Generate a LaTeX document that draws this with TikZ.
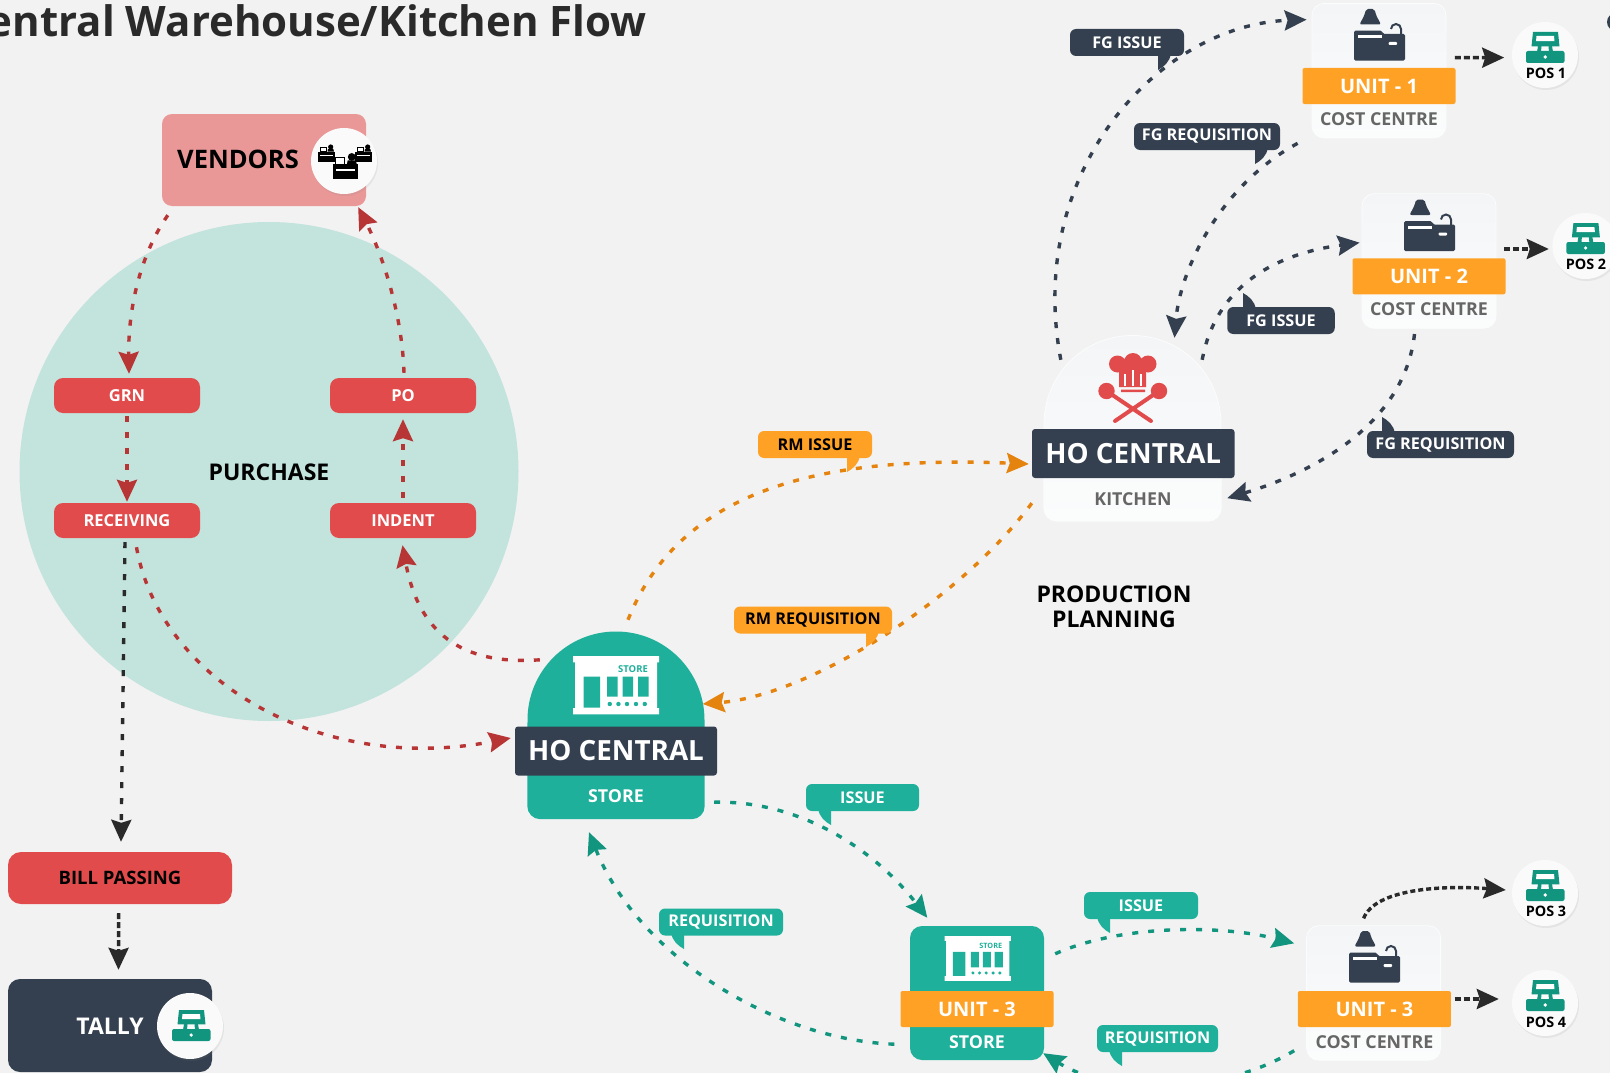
\documentclass[tikz,border=0pt]{standalone}
\usepackage{fontspec}
\setmainfont{Open Sans}
\usetikzlibrary{arrows.meta, shadows}

\definecolor{PageGray}{HTML}{F2F2F2}
\definecolor{PurchaseTeal}{HTML}{C3E3DD}
\definecolor{VendorPink}{HTML}{E99797}
\definecolor{RedFill}{HTML}{E24B4B}
\definecolor{ArrowRed}{HTML}{B73535}
\definecolor{InkDark}{HTML}{34404F}
\definecolor{ArrowDark}{HTML}{2A2A2A}
\definecolor{StoreGreen}{HTML}{1EB09A}
\definecolor{ArrowGreen}{HTML}{12957F}
\definecolor{BandOrange}{HTML}{FFA124}
\definecolor{ArrowOrange}{HTML}{E5830F}
\definecolor{TextGray}{HTML}{666666}
\definecolor{CardTop}{HTML}{F4F5F7}
\definecolor{CardBottom}{HTML}{FBFCFC}

\tikzset{
  flow/.style={line width=3.4pt, dash pattern=on 6pt off 10pt,
    -{Stealth[length=22pt, width=20pt, inset=3pt]}},
  flowred/.style={flow, draw=ArrowRed},
  flowink/.style={flow, draw=InkDark},
  flowgreen/.style={flow, draw=ArrowGreen},
  floworange/.style={flow, draw=ArrowOrange},
  flowshort/.style={flow, draw=ArrowDark, dash pattern=on 6pt off 3pt},
  redbox/.style={fill=RedFill, rounded corners=9pt, inner sep=0pt, minimum width=146pt,
    minimum height=35pt, text=white, font=\bfseries\fontsize{16.5}{20}\selectfont},
  bandink/.style={fill=InkDark, rounded corners=3pt, inner sep=0pt, minimum height=49pt,
    text=white, font=\bfseries\fontsize{27.8}{30}\selectfont},
  bandorange/.style={fill=BandOrange, rounded corners=2pt, inner sep=0pt, minimum width=153pt,
    minimum height=36pt, text=white, font=\bfseries\fontsize{20}{24}\selectfont},
  sublabel/.style={inner sep=0pt, font=\bfseries\fontsize{17.8}{22}\selectfont},
  headline/.style={inner sep=0pt, text=black, font=\bfseries\fontsize{23}{25}\selectfont},
  costcard/.style={top color=CardTop, bottom color=CardBottom, draw=CardBottom, line width=.8pt,
    rounded corners=12pt, inner sep=0pt, minimum width=134pt, minimum height=134.5pt},
  roundel/.style={circle, fill=white!50!CardTop, inner sep=0pt, minimum size=66pt,
    drop shadow={opacity=.12, shadow xshift=1pt, shadow yshift=-2pt}},
  postext/.style={inner sep=0pt, text=black, font=\bfseries\fontsize{14.4}{18}\selectfont},
  bubble/.style={rounded corners=6pt, inner sep=0pt, minimum height=27pt,
    font=\bfseries\fontsize{16.2}{20}\selectfont},
  bubbletail/.pic={\path[pic actions] (0,-1) -- (13,-1) .. controls (12,6) and (6,12) .. (0,15) -- cycle;},
  storeicon/.pic={
    \fill[white] (0,0) rectangle (86,6.3) (2,0) rectangle (84,58) (0,52) rectangle (86,58.3);
    \fill[StoreGreen] (10.7,20.7) rectangle (27,51.7)
      (34,20.7) rectangle (44.6,40.7) (49.6,20.7) rectangle (60,40.7) (65,20.7) rectangle (75.7,40.7);
    \foreach \dotx in {36.8,45.4,54,63,71.8} \fill[StoreGreen] (\dotx,48) circle[radius=2.2];
    \node[transform shape, inner sep=0pt, text=StoreGreen, font=\bfseries\fontsize{9.5}{11}\selectfont]
      (tag) at (60,12.7) {STORE};
  },
  deskicon/.pic={
    \fill[InkDark, rounded corners=2pt] (12,0) -- (20.5,0) -- (22,6) -- (27,15.5) -- (5.5,15.5) -- (10.5,6) -- cycle;
    \fill[InkDark, rounded corners=1.5pt] (0,21.7) -- (28,21.7) -- (29,25) -- (51,25) -- (51,51.7) -- (0,51.7) -- cycle;
    \draw[InkDark, line width=2pt] (47,27) -- (47,20) arc[start angle=0, end angle=180, radius=5pt] -- (37,20);
    \fill[white] (3.6,26) rectangle (28,29);
    \fill[white, rounded corners=1pt] (34.5,33) rectangle (43,36);
  },
  posicon/.pic={
    \fill[ArrowGreen] (-12,-23) -- (13,-23) -- (14.5,-8.6) -- (-13.5,-8.6) -- cycle;
    \fill[white] (-8.5,-19) -- (9,-19) -- (9.5,-13.8) -- (-9,-13.8) -- cycle;
    \fill[ArrowGreen] (-7,-9) -- (-3.5,-9) -- (-4,-3) -- (-8,-3) -- cycle (3.5,-9) -- (7,-9) -- (8,-3) -- (4,-3) -- cycle;
    \fill[ArrowGreen, rounded corners=2pt] (-19,-4) rectangle (19.5,8);
    \fill[white] (0.2,2) circle[radius=1.8];
  },
  vendordesk/.pic={
    \fill[black] (0,0) rectangle (16.7,10);
    \fill[white] (2,3.2) rectangle (14.7,4.4);
    \fill[black] (12.7,-4.7) circle[radius=2.6];
    \fill[black] (9.5,0) -- (10,-2.5) -- (15.4,-2.5) -- (16,0) -- cycle;
    \draw[black, line width=.6pt, fill=white] (2,-4.5) rectangle (8,0);
  },
}

\begin{document}
\begin{tikzpicture}[x=1pt, y=-1pt]

\useasboundingbox (0,0) rectangle (1610,1073);
\fill[PageGray] (0,0) rectangle (1610,1073);
\fill[PurchaseTeal] (269,471.5) circle[radius=249.5];
\fill[InkDark] (1616,22) circle[radius=9];

% Titulo y textos sueltos
\node[anchor=base east, inner sep=0pt, text=ArrowDark, font=\bfseries\fontsize{42}{48}\selectfont]
  (title) at (647,37) {entral Warehouse/Kitchen Flow};
\node[headline] (purchase) at (269,472) {PURCHASE};
\node[headline, align=center] (planning) at (1114,606.5) {PRODUCTION\\PLANNING};

% Compras
\node[fill=VendorPink, rounded corners=10pt, minimum width=204pt, minimum height=92pt, inner sep=0pt] (vendors) at (264,160) {};
\node[inner sep=0pt, text=black, font=\bfseries\fontsize{25.5}{30}\selectfont] (vendorsText) at (238,159) {VENDORS};
\node[roundel] (vendorsIcon) at (344,161) {};
\pic at (318,151.7) {vendordesk};
\pic at (355,151.7) {vendordesk};
\pic[scale=1.5] at (332.7,164) {vendordesk};
\node[redbox] (grn) at (127,395.5) {GRN};
\node[redbox] (po) at (403,395.5) {PO};
\node[redbox] (receiving) at (127,520.5) {RECEIVING};
\node[redbox] (indent) at (403,520.5) {INDENT};

% Pagos
\node[fill=RedFill, rounded corners=13pt, minimum width=224pt, minimum height=52pt, inner sep=0pt,
  text=black, font=\bfseries\fontsize{18.5}{22}\selectfont] (billPassing) at (120,878) {BILL PASSING};
\node[fill=InkDark, rounded corners=12pt, minimum width=204pt, minimum height=93pt, inner sep=0pt] (tally) at (110,1025.5) {};
\node[inner sep=0pt, text=white, font=\bfseries\fontsize{23}{28}\selectfont] (tallyText) at (110,1026) {TALLY};
\node[roundel] (tallyIcon) at (190,1026) {};
\pic at (191,1033) {posicon};

% Almacen central
\node[inner sep=0pt, minimum width=177pt, minimum height=187pt] (hoStoreDome) at (616,725.5) {};
\fill[StoreGreen] (527.5,720) arc[start angle=180, end angle=0, radius=88.5pt]
  [rounded corners=13pt] -- (hoStoreDome.south east) -- (hoStoreDome.south west) [sharp corners] -- cycle;
\pic at (573,656) {storeicon};
\node[bandink, minimum width=202pt] (hoStore) at (616,751) {HO CENTRAL};
\node[sublabel, text=white] (hoStoreLabel) at (616,796) {STORE};

% Cocina central
\node[inner sep=0pt, minimum width=177pt, minimum height=185.5pt] (hoKitchenDome) at (1132.5,428.25) {};
\path[top color=CardTop, bottom color=CardBottom, draw=CardBottom, line width=.8pt] (1044,424) arc[start angle=180, end angle=0, radius=88.5pt]
  [rounded corners=13pt] -- (hoKitchenDome.south east) -- (hoKitchenDome.south west) [sharp corners] -- cycle;
\fill[RedFill] (1117.5,364) circle[radius=8.5] (1133,362) circle[radius=9] (1148,364) circle[radius=8.5];
\fill[RedFill] (1119,364) rectangle (1146,387) (1121,389.5) rectangle (1145,392);
\draw[white, line width=1.4pt] (1125,374) -- (1125,386) (1133,370) -- (1133,386) (1141,374) -- (1141,386);
\draw[RedFill, line width=4pt, line cap=round] (1106.5,391) -- (1151,421) (1159,391) -- (1115,421);
\fill[RedFill] (1106.5,391) circle[radius=8.2] (1159,391) circle[radius=8.2];
\node[bandink, minimum width=202.5pt] (hoKitchen) at (1133.25,453.5) {HO CENTRAL};
\node[sublabel, text=TextGray] (hoKitchenLabel) at (1133,499) {KITCHEN};

% Unidades de coste
\node[costcard] (unitOneCard) at (1379,70.7) {};
\pic at (1354,9) {deskicon};
\node[bandorange] (unitOne) at (1379,86) {UNIT - 1};
\node[sublabel, text=TextGray] (unitOneLabel) at (1379,119) {COST CENTRE};
\node[costcard] (unitTwoCard) at (1429,261) {};
\pic at (1404,199.5) {deskicon};
\node[bandorange] (unitTwo) at (1429,276.3) {UNIT - 2};
\node[sublabel, text=TextGray] (unitTwoLabel) at (1429,309.5) {COST CENTRE};
\node[costcard] (unitThreeCard) at (1373.6,993) {};
\pic at (1349,931) {deskicon};
\node[bandorange] (unitThree) at (1374.4,1009) {UNIT - 3};
\node[sublabel, text=TextGray] (unitThreeLabel) at (1374.4,1042) {COST CENTRE};

% Almacen de la unidad
\node[fill=StoreGreen, rounded corners=12pt, minimum width=134pt, minimum height=134pt, inner sep=0pt] (unitStoreBody) at (977,993) {};
\pic[scale=.77] at (944.6,936) {storeicon};
\node[bandorange] (unitStore) at (977,1009) {UNIT - 3};
\node[sublabel, text=white] (unitStoreLabel) at (977,1042) {STORE};

% Puntos de venta
\node[roundel] (posOne) at (1545,55) {};
\pic at (1545,55) {posicon};
\node[postext] (posOneText) at (1546,73) {POS 1};
\node[roundel] (posTwo) at (1585.4,246) {};
\pic at (1585.4,246) {posicon};
\node[postext] (posTwoText) at (1586,264) {POS 2};
\node[roundel] (posThree) at (1545,893) {};
\pic at (1545,893) {posicon};
\node[postext] (posThreeText) at (1546,911) {POS 3};
\node[roundel] (posFour) at (1545,1003) {};
\pic at (1545,1003) {posicon};
\node[postext] (posFourText) at (1546,1022) {POS 4};

% Flechas de compras
\draw[flowred] ([shift={(6,9)}]vendors.south west) .. controls +(-28,40) and +(-1,-64) .. ([shift={(2,-4)}]grn.north);
\draw[flowred] ([shift={(1,-5)}]po.north) .. controls +(-2,-63) and +(22,43) .. ([shift={(-8,1)}]vendors.south east);
\draw[flowred] ([yshift=-3pt]grn.south) -- ([yshift=1pt]receiving.north);
\draw[flowred] ([yshift=5pt]indent.north) -- ([yshift=-6pt]po.south);
\draw[flowred] ([shift={(9.5,9)}]receiving.south) .. controls +(23.5,133) and +(-191,37) .. ([shift={(-4,-13)}]hoStore.west);
\draw[flowred] ([shift={(12.5,28)}]hoStoreDome.north west) .. controls +(-70,5) and +(17.5,95) .. ([shift={(-.5,7)}]indent.south);
\draw[flowshort, dash pattern=on 6pt off 10pt] ([shift={(-2,4)}]receiving.south) -- ([shift={(1,-10)}]billPassing.north);
\draw[flowshort] ([shift={(-1.3,9)}]billPassing.south) -- ([shift={(8.5,-9)}]tally.north);

% Flechas de materia prima
\draw[floworange] ([shift={(12,-12)}]hoStoreDome.north) .. controls +(52,-130) and +(-209,-9) .. ([shift={(-3,10.5)}]hoKitchen.west);
\draw[floworange] ([yshift=-25pt]hoKitchen.south west) .. controls +(-72,97) and +(107.5,-9) .. ([shift={(-2,-21.5)}]hoStoreDome.east);

% Flechas de producto terminado
\draw[flowink] ([shift={(17,24.5)}]hoKitchenDome.north west) .. controls +(-36,-190) and +(-146.5,5) .. ([shift={(-5,16.6)}]unitOneCard.north west);
\draw[flowink] ([shift={(-14,5)}]unitOneCard.south west) .. controls +(-77.5,42) and +(5.5,-68) .. ([shift={(42,2.5)}]hoKitchenDome.north);
\draw[flowink] ([shift={(-19,24.5)}]hoKitchenDome.north east) .. controls +(13,-70) and +(-90,12) .. ([shift={(-2,49.3)}]unitTwoCard.north west);
\draw[flowink] ([shift={(-14.5,5.4)}]unitTwoCard.south) .. controls +(-9.5,86.6) and +(93,-28) .. ([shift={(6,-23)}]hoKitchenDome.south east);
\draw[flowshort] ([shift={(8.5,-13)}]unitOneCard.east) -- ([shift={(-7.6,2.6)}]posOne.west);
\draw[flowshort] ([shift={(8,-12)}]unitTwoCard.east) -- ([shift={(-3.4,3)}]posTwo.west);

% Flechas de almacen
\draw[flowgreen] ([shift={(9.5,-17)}]hoStoreDome.south east) .. controls +(86,-2) and +(-52.5,-68) .. ([shift={(17.5,-8)}]unitStoreBody.north west);
\draw[flowgreen] ([shift={(-15.4,-16)}]unitStoreBody.south west) .. controls +(-114.6,-4) and +(51,128) .. ([shift={(-27,13)}]hoStoreDome.south);
\draw[flowgreen] ([shift={(11,28)}]unitStoreBody.north east) .. controls +(65,-29) and +(-74.5,-19) .. ([shift={(-12,18)}]unitThreeCard.north west);
\draw[flowgreen] ([shift={(-12,-10)}]unitThreeCard.south west) .. controls +(-74.5,45) and +(67,42) .. ([shift={(-1,-7)}]unitStoreBody.south east);
\draw[flowshort, dash pattern=on 5pt off 3pt] ([shift={(-10,-7)}]unitThreeCard.north) .. controls +(11.4,-29) and +(-66,-5) .. ([shift={(-6,-3)}]posThree.west);
\draw[flowshort] ([shift={(3.5,-10)}]unitThree.east) -- ([shift={(-13,-4)}]posFour.west);

% Etiquetas de las flechas
\pic[fill=BandOrange] at (847,457) {bubbletail};
\node[bubble, fill=BandOrange, text=black, minimum width=114pt] (rmIssue) at (815,444.5) {RM ISSUE};
\pic[fill=BandOrange] at (866,632) {bubbletail};
\node[bubble, fill=BandOrange, text=black, minimum width=158pt] (rmRequisition) at (813,620) {RM REQUISITION};
\pic[fill=InkDark] at (1158,55) {bubbletail};
\node[bubble, fill=InkDark, text=white, minimum width=114pt] (fgIssueOne) at (1127,42.5) {FG ISSUE};
\pic[fill=InkDark] at (1255,149) {bubbletail};
\node[bubble, fill=InkDark, text=white, minimum width=146pt] (fgRequisitionOne) at (1207,136.5) {FG REQUISITION};
\pic[fill=InkDark, yscale=-1] at (1243,308) {bubbletail};
\node[bubble, fill=InkDark, text=white, minimum width=107.5pt] (fgIssueTwo) at (1281,320.5) {FG ISSUE};
\pic[fill=InkDark, yscale=-1] at (1382,432) {bubbletail};
\node[bubble, fill=InkDark, text=white, minimum width=147pt] (fgRequisitionTwo) at (1440.5,444.5) {FG REQUISITION};
\pic[fill=StoreGreen, xscale=-1] at (831,810) {bubbletail};
\node[bubble, fill=StoreGreen, text=white, minimum width=113pt] (issueStore) at (862.5,797.5) {ISSUE};
\pic[fill=StoreGreen, xscale=-1] at (684,934) {bubbletail};
\node[bubble, fill=StoreGreen, text=white, minimum width=124pt] (requisitionStore) at (721,922) {REQUISITION};
\pic[fill=StoreGreen, xscale=-1] at (1110,918) {bubbletail};
\node[bubble, fill=StoreGreen, text=white, minimum width=114pt] (issueUnit) at (1141,905.5) {ISSUE};
\pic[fill=StoreGreen, xscale=-1] at (1122,1051) {bubbletail};
\node[bubble, fill=StoreGreen, text=white, minimum width=121pt] (requisitionUnit) at (1157.5,1038.5) {REQUISITION};

\end{tikzpicture}
\end{document}
